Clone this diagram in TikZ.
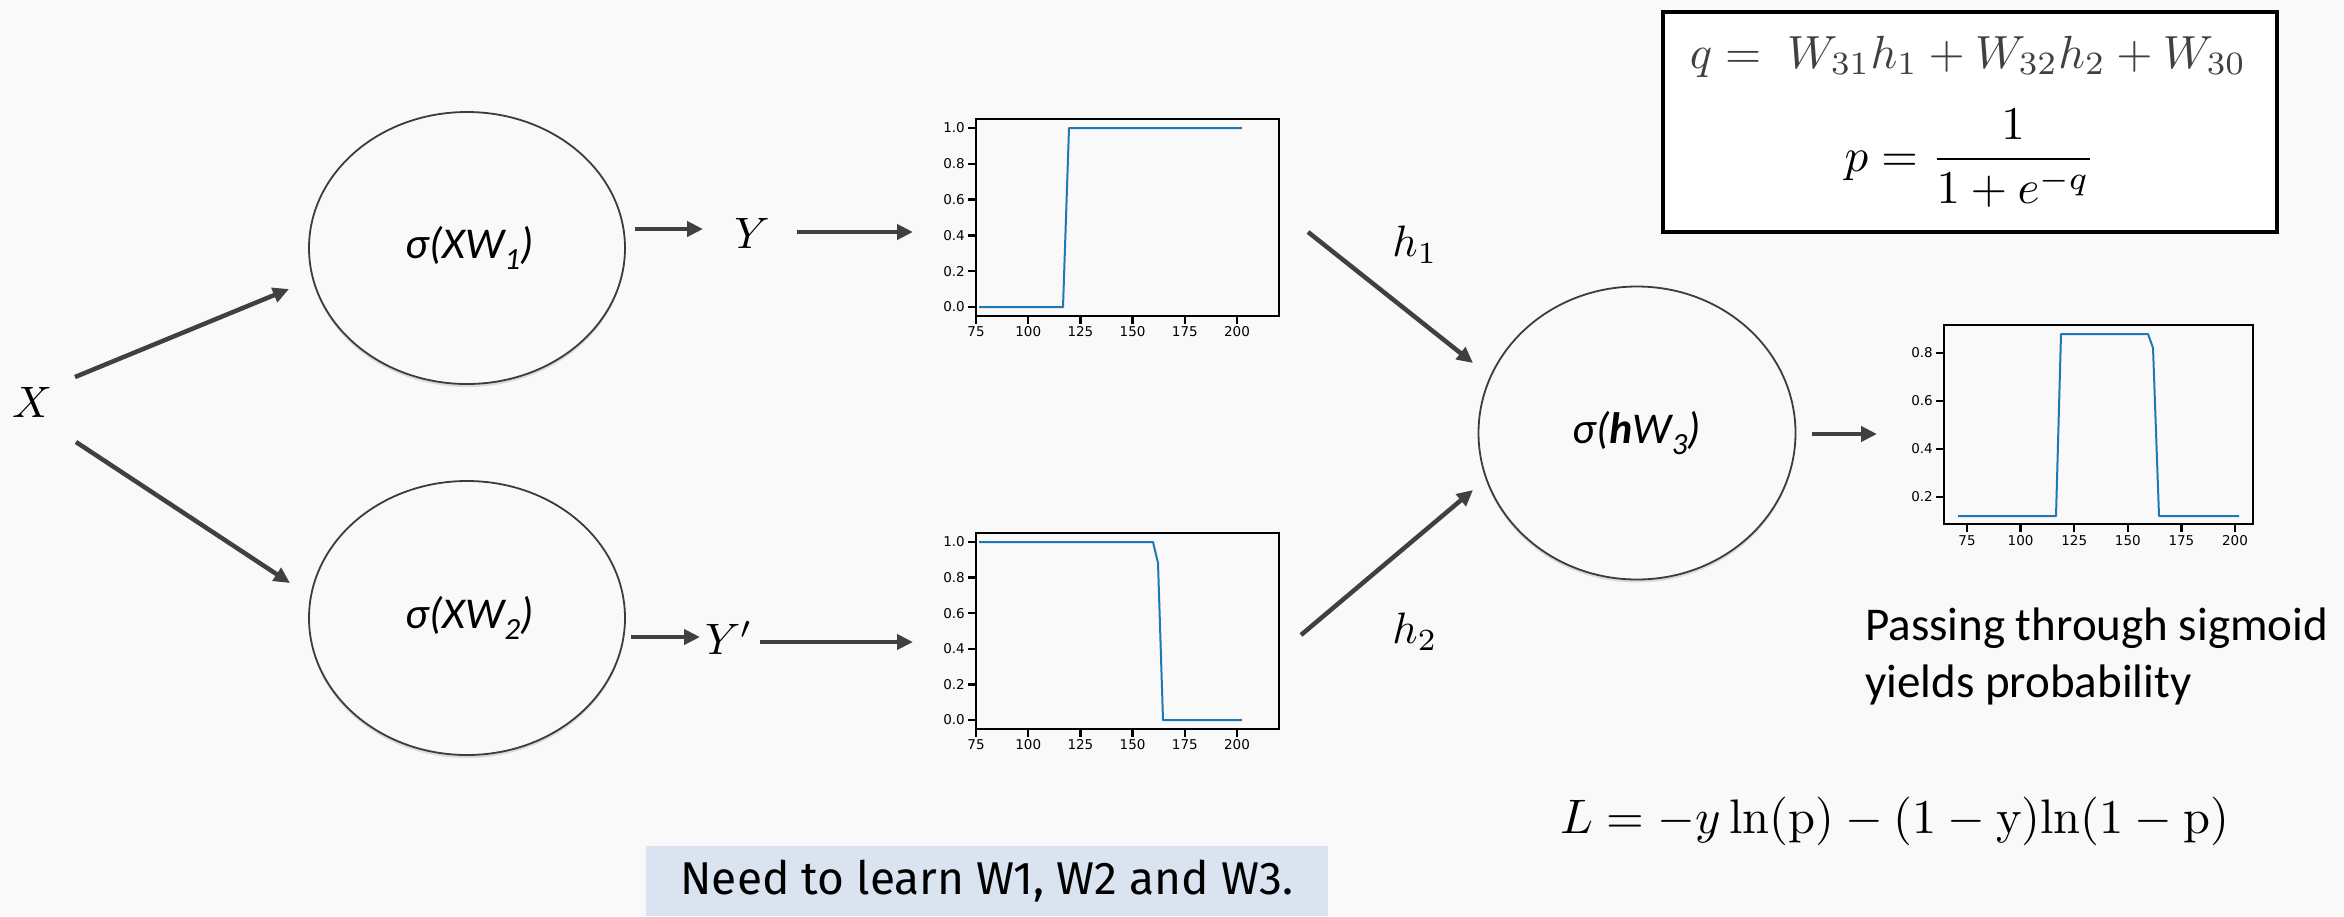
\documentclass[tikz,border=0pt]{standalone}
\usepackage{graphicx}
\usepackage{fontspec}
\usetikzlibrary{arrows.meta,shapes.geometric,shadows}
\newfontfamily\calib{Carlito}
\newfontfamily\tickf{DejaVu Sans}
\newfontfamily\learnf{Fira Sans}
\newcommand{\mymath}[2]{\scalebox{#1}{\fontsize{10}{12}\selectfont$#2$}}
\definecolor{bgc}{HTML}{F9F9F9}
\definecolor{arrc}{HTML}{404040}
\definecolor{circc}{HTML}{3C3C3C}
\definecolor{mplblue}{HTML}{1F77B4}
\definecolor{boxblue}{HTML}{DAE3F0}
\definecolor{fgray}{HTML}{404040}
\begin{document}
\begin{tikzpicture}[x=1pt,y=-1pt,
  arr/.style={draw=arrc, line width=4.5pt, -{Triangle[length=16pt,width=15pt]}},
  circ/.style={ellipse, draw=circc, line width=1.8pt, fill=bgc, inner sep=0pt,
    drop shadow={shadow xshift=0pt, shadow yshift=-3pt, opacity=0.12, fill=black},
    font=\calib\itshape\fontsize{44}{50}\selectfont},
  mlab/.style={inner sep=0pt},
  spine/.style={draw=black, line width=1.6pt},
  tk/.style={draw=black, line width=2.4pt},
  dline/.style={draw=mplblue, line width=2pt, line join=round},
  ticklab/.style={font=\tickf\fontsize{13.5}{16}\selectfont, inner sep=1pt}]
\useasboundingbox (0,0) rectangle (2344,916);
\fill[bgc] (0,0) rectangle (2344,916);

% ---------- main nodes ----------
\node[mlab] (X) at (32,402) {\mymath{4.4}{X}};
\node[circ, minimum width=316pt, minimum height=272pt] (c1) at (467,248) {\hspace*{6pt}σ(XW\textsubscript{1})};
\node[circ, minimum width=316pt, minimum height=274pt] (c2) at (467,618) {\hspace*{6pt}σ(XW\textsubscript{2})};
\node[circ, minimum width=317pt, minimum height=293pt] (c3) at (1637,433) {σ(\textbf{h}W\textsubscript{3})};
\node[mlab] (Y) at (752,233) {\mymath{4.4}{Y}};
\node[mlab] (Yp) at (729,638) {\mymath{4.4}{Y'}};
\node[mlab] (h1) at (1415,245) {\mymath{4.4}{h_1}};
\node[mlab] (h2) at (1415,632) {\mymath{4.4}{h_2}};

% ---------- plot frames (named) ----------
\node[spine, inner sep=0pt, minimum width=303pt, minimum height=197pt] (p1) at (1127.5,217.5) {};
\node[spine, inner sep=0pt, minimum width=303pt, minimum height=196pt] (p2) at (1127.5,631) {};
\node[spine, inner sep=0pt, minimum width=309pt, minimum height=199pt] (p3) at (2098.5,424.5) {};

% ---------- arrow end points ----------
\coordinate (xa1) at (75,377);   \coordinate (c1in) at (289,289);
\coordinate (xa2) at (76,442);   \coordinate (c2in) at (290,583);
\coordinate (c1out) at (635,229); \coordinate (yin) at (703,229);
\coordinate (yout) at (797,232);  \coordinate (p1in) at (913,232);
\coordinate (c2out) at (631,637); \coordinate (ypin) at (700,637);
\coordinate (ypout) at (760,642); \coordinate (p2in) at (913,642);
\coordinate (h1s) at (1308,232);  \coordinate (c3a) at (1473,363);
\coordinate (h2s) at (1301,635);  \coordinate (c3b) at (1473,490);
\coordinate (c3out) at (1812,434); \coordinate (p3in) at (1877,434);

\draw[arr] (xa1) -- (c1in);
\draw[arr] (xa2) -- (c2in);
\draw[arr] (c1out) -- (yin);
\draw[arr] (yout) -- (p1in);
\draw[arr] (c2out) -- (ypin);
\draw[arr] (ypout) -- (p2in);
\draw[arr] (h1s) -- (c3a);
\draw[arr] (h2s) -- (c3b);
\draw[arr] (c3out) -- (p3in);

% ---------- plot 1 ----------
\foreach \v in {0.0,0.2,0.4,0.6,0.8,1.0} {
  \draw[tk] (968,{307-179*\v}) -- (975,{307-179*\v});
  \node[ticklab, anchor=east] at (966,{307-179*\v}) {\v};
}
\foreach \v in {75,100,125,150,175,200} {
  \draw[tk] ({976+2.088*(\v-75)},317) -- ++(0,7);
  \node[ticklab, anchor=north] at ({976+2.088*(\v-75)},325) {\v};
}
\draw[dline] (979,307) -- (1063,307) -- (1069,128) -- (1242,128);

% ---------- plot 2 ----------
\foreach \v in {0.0,0.2,0.4,0.6,0.8,1.0} {
  \draw[tk] (968,{720-178*\v}) -- (975,{720-178*\v});
  \node[ticklab, anchor=east] at (966,{720-178*\v}) {\v};
}
\foreach \v in {75,100,125,150,175,200} {
  \draw[tk] ({976+2.088*(\v-75)},730) -- ++(0,7);
  \node[ticklab, anchor=north] at ({976+2.088*(\v-75)},738) {\v};
}
\draw[dline] (979,542) -- (1153,542) -- (1158,563) -- (1163,720) -- (1242,720);

% ---------- plot 3 ----------
\foreach \v in {0.2,0.4,0.6,0.8} {
  \draw[tk] (1936,{545-240*\v}) -- (1943,{545-240*\v});
  \node[ticklab, anchor=east] at (1934,{545-240*\v}) {\v};
}
\foreach \v in {75,100,125,150,175,200} {
  \draw[tk] ({1967+2.144*(\v-75)},525) -- ++(0,7);
  \node[ticklab, anchor=north] at ({1967+2.144*(\v-75)},534) {\v};
}
\draw[dline] (1958,516) -- (2056,516) -- (2061,334) -- (2148,334) -- (2153,348) -- (2159,516) -- (2239,516);

% ---------- formula box ----------
\node[draw=black, line width=4pt, fill=white, inner sep=0pt,
  minimum width=614pt, minimum height=220pt] (fbox) at (1970,122) {};
\node[anchor=base, inner sep=0pt, text=fgray]
  (qeq) at (1968,68) {\mymath{4.65}{q =\; W_{31}h_1 + W_{32}h_2 + W_{30}}};
\node[anchor=base, inner sep=0pt]
  (peq) at (1970,171) {\mymath{4.7}{\displaystyle p = \frac{1}{1+e^{-q}}}};

% ---------- loss ----------
\node[anchor=base west, inner sep=0pt]
  (loss) at (1560,833) {\mymath{4.85}{L = -y\ln(\mathrm{p}) - (1-\mathrm{y})\mathrm{ln}(1-\mathrm{p})}};

% ---------- notes ----------
\node[anchor=base west, inner sep=0pt, font=\calib\fontsize{47}{57}\selectfont]
  (pass1) at (1865,640) {Passing through sigmoid};
\node[anchor=base west, inner sep=0pt, font=\calib\fontsize{47}{57}\selectfont]
  (pass2) at (1865,697) {yields probability};
\node[fill=boxblue, inner sep=0pt, minimum width=682pt, minimum height=70pt,
  font=\learnf\fontsize{46}{54}\selectfont] (learn) at (987,881) {Need to learn W1, W2 and W3.};
\end{tikzpicture}
\end{document}
